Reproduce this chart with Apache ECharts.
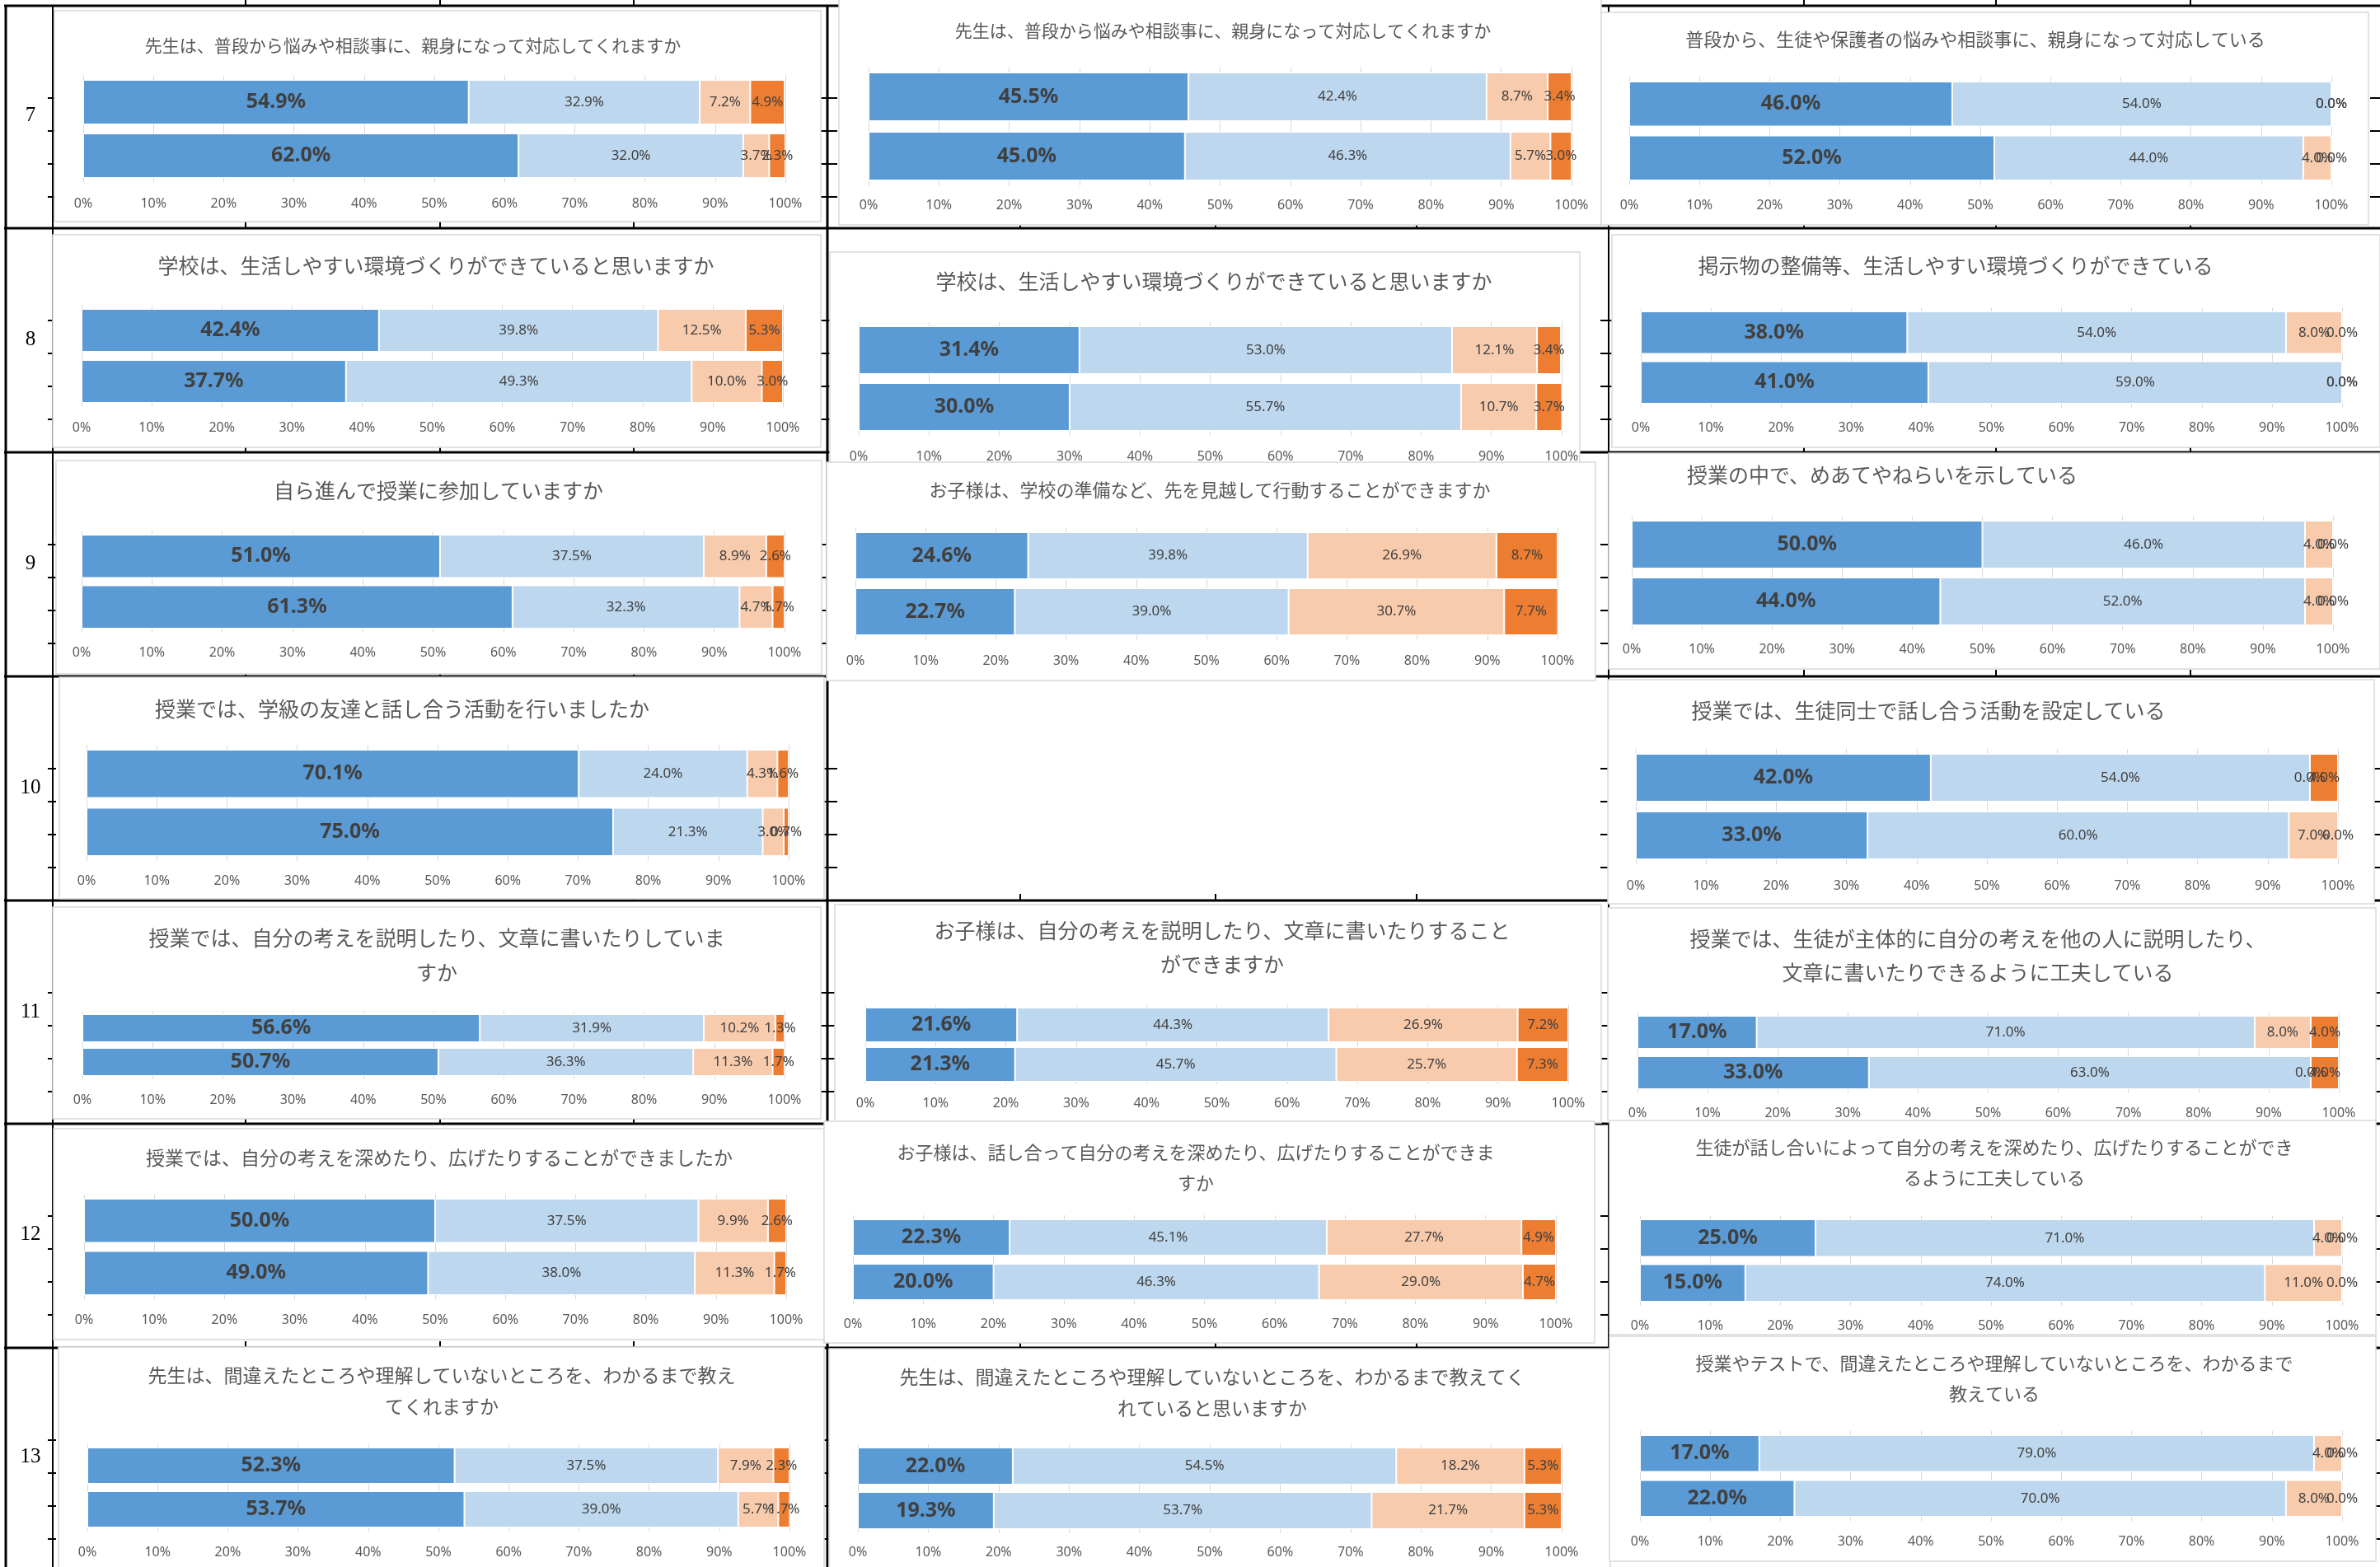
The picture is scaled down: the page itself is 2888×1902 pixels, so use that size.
<!DOCTYPE html>
<html lang="ja">
<head>
<meta charset="UTF-8">
<script src="https://cdn.jsdelivr.net/npm/echarts@6/dist/echarts.min.js"></script>
<style>
  html, body { margin: 0; padding: 0; background: #fff; }
  #main { width: 2888px; height: 1902px; }
</style>
</head>
<body>
<div id="main"></div>
<script>
// 4段階の回答区分（左から）
var levels = ['よくあてはまる', 'ややあてはまる', 'あまりあてはまらない', 'あてはまらない'];
var colors = ['#5B9BD5', '#BDD7EE', '#F8CBAD', '#ED7D31'];
var rowNames = ['7', '8', '9', '10', '11', '12', '13'];
var tickLabels = ['0%', '10%', '20%', '30%', '40%', '50%', '60%', '70%', '80%', '90%', '100%'];

// [上段, 下段] それぞれ4区分の割合(%)  s=生徒 p=保護者 t=教職員
var s7 = [[54.9, 32.9, 7.2, 4.9], [62.0, 32.0, 3.7, 2.3]];
var p7 = [[45.5, 42.4, 8.7, 3.4], [45.0, 46.3, 5.7, 3.0]];
var t7 = [[46.0, 54.0, 0.0, 0.0], [52.0, 44.0, 4.0, 0.0]];
var s8 = [[42.4, 39.8, 12.5, 5.3], [37.7, 49.3, 10.0, 3.0]];
var p8 = [[31.4, 53.0, 12.1, 3.4], [30.0, 55.7, 10.7, 3.7]];
var t8 = [[38.0, 54.0, 8.0, 0.0], [41.0, 59.0, 0.0, 0.0]];
var s9 = [[51.0, 37.5, 8.9, 2.6], [61.3, 32.3, 4.7, 1.7]];
var p9 = [[24.6, 39.8, 26.9, 8.7], [22.7, 39.0, 30.7, 7.7]];
var t9 = [[50.0, 46.0, 4.0, 0.0], [44.0, 52.0, 4.0, 0.0]];
var s10 = [[70.1, 24.0, 4.3, 1.6], [75.0, 21.3, 3.0, 0.7]];
var t10 = [[42.0, 54.0, 0.0, 4.0], [33.0, 60.0, 7.0, 0.0]];
var s11 = [[56.6, 31.9, 10.2, 1.3], [50.7, 36.3, 11.3, 1.7]];
var p11 = [[21.6, 44.3, 26.9, 7.2], [21.3, 45.7, 25.7, 7.3]];
var t11 = [[17.0, 71.0, 8.0, 4.0], [33.0, 63.0, 0.0, 4.0]];
var s12 = [[50.0, 37.5, 9.9, 2.6], [49.0, 38.0, 11.3, 1.7]];
var p12 = [[22.3, 45.1, 27.7, 4.9], [20.0, 46.3, 29.0, 4.7]];
var t12 = [[25.0, 71.0, 4.0, 0.0], [15.0, 74.0, 11.0, 0.0]];
var s13 = [[52.3, 37.5, 7.9, 2.3], [53.7, 39.0, 5.7, 1.7]];
var p13 = [[22.0, 54.5, 18.2, 5.3], [19.3, 53.7, 21.7, 5.3]];
var t13 = [[17.0, 79.0, 4.0, 0.0], [22.0, 70.0, 8.0, 0.0]];

var titles = {
    s7: '先生は、普段から悩みや相談事に、親身になって対応してくれますか',
    p7: '先生は、普段から悩みや相談事に、親身になって対応してくれますか',
    t7: '普段から、生徒や保護者の悩みや相談事に、親身になって対応している',
    s8: '学校は、生活しやすい環境づくりができていると思いますか',
    p8: '学校は、生活しやすい環境づくりができていると思いますか',
    t8: '掲示物の整備等、生活しやすい環境づくりができている',
    s9: '自ら進んで授業に参加していますか',
    p9: 'お子様は、学校の準備など、先を見越して行動することができますか',
    t9: '授業の中で、めあてやねらいを示している',
    s10: '授業では、学級の友達と話し合う活動を行いましたか',
    t10: '授業では、生徒同士で話し合う活動を設定している',
    s11: '授業では、自分の考えを説明したり、文章に書いたりしていま\nすか',
    p11: 'お子様は、自分の考えを説明したり、文章に書いたりすること\nができますか',
    t11: '授業では、生徒が主体的に自分の考えを他の人に説明したり、\n文章に書いたりできるように工夫している',
    s12: '授業では、自分の考えを深めたり、広げたりすることができましたか',
    p12: 'お子様は、話し合って自分の考えを深めたり、広げたりすることができま\nすか',
    t12: '生徒が話し合いによって自分の考えを深めたり、広げたりすることができ\nるように工夫している',
    s13: '先生は、間違えたところや理解していないところを、わかるまで教え\nてくれますか',
    p13: '先生は、間違えたところや理解していないところを、わかるまで教えてく\nれていると思いますか',
    t13: '授業やテストで、間違えたところや理解していないところを、わかるまで\n教えている'
};

// 各グラフの枠・プロット位置（px）
// box=[x,y,w,h] px=[0%,100%] bars=[上段上,上段下,下段上,下段下] ly=目盛ラベルy tx,ty=タイトル中心 fs=タイトル文字 lh=行送り
var layout = [
    {d: s7, k: 's7', box: [66, 13, 930, 256], px: [101, 953], bars: [97, 151, 162, 216], ly: 247, tx: 501, ty: 55, fs: 21},
    {d: p7, k: 'p7', box: [1018, -2, 925, 275], px: [1054, 1907], bars: [88, 147, 160, 219], ly: 249, tx: 1484, ty: 37, fs: 21},
    {d: t7, k: 't7', box: [1943, 15, 931, 258], px: [1977, 2829], bars: [99, 154, 165, 219], ly: 249, tx: 2397, ty: 48, fs: 22},
    {d: s8, k: 's8', box: [64, 285, 932, 258], px: [99, 950], bars: [375, 427, 437, 489], ly: 519, tx: 529, ty: 322, fs: 25},
    {d: p8, k: 'p8', box: [1007, 306, 910, 256], px: [1042, 1895], bars: [396, 454, 465, 523], ly: 554, tx: 1473, ty: 341, fs: 25},
    {d: t8, k: 't8', box: [1956, 285, 932, 258], px: [1991, 2842], bars: [378, 429, 438, 490], ly: 519, tx: 2373, ty: 322, fs: 25},
    {d: s9, k: 's9', box: [68, 559, 929, 259], px: [99, 952], bars: [649, 702, 711, 763], ly: 792, tx: 532, ty: 595, fs: 25},
    {d: p9, k: 'p9', box: [1003, 561, 933, 265], px: [1038, 1890], bars: [646, 703, 714, 771], ly: 802, tx: 1468, ty: 595, fs: 22},
    {d: t9, k: 't9', box: [1952, 550, 936, 262], px: [1980, 2831], bars: [632, 691, 702, 759], ly: 788, tx: 2284, ty: 576, fs: 25},
    {d: s10, k: 's10', box: [72, 822, 928, 269], px: [105, 957], bars: [910, 968, 980, 1039], ly: 1069, tx: 488, ty: 860, fs: 25},
    {d: t10, k: 't10', box: [1951, 825, 930, 272], px: [1985, 2837], bars: [915, 973, 985, 1043], ly: 1075, tx: 2340, ty: 862, fs: 25},
    {d: s11, k: 's11', box: [64, 1101, 932, 257], px: [100, 952], bars: [1231, 1265, 1272, 1306], ly: 1335, tx: 530, ty: 1138, fs: 25, lh: 42},
    {d: p11, k: 'p11', box: [1013, 1098, 930, 265], px: [1050, 1903], bars: [1223, 1265, 1271, 1313], ly: 1339, tx: 1483, ty: 1129, fs: 25, lh: 41},
    {d: t11, k: 't11', box: [1951, 1102, 932, 260], px: [1987, 2838], bars: [1233, 1273, 1282, 1322], ly: 1351, tx: 2400, ty: 1139, fs: 25, lh: 41},
    {d: s12, k: 's12', box: [65, 1370, 935, 256], px: [102, 954], bars: [1455, 1509, 1519, 1572], ly: 1602, tx: 533, ty: 1405, fs: 23},
    {d: p12, k: 'p12', box: [1000, 1361, 935, 269], px: [1035, 1888], bars: [1480, 1524, 1534, 1578], ly: 1607, tx: 1451, ty: 1399, fs: 22, lh: 37},
    {d: t12, k: 't12', box: [1953, 1360, 930, 260], px: [1990, 2842], bars: [1480, 1526, 1535, 1580], ly: 1609, tx: 2420, ty: 1393, fs: 22, lh: 37},
    {d: s13, k: 's13', box: [71, 1635, 929, 280], px: [106, 958], bars: [1757, 1802, 1811, 1854], ly: 1884, tx: 536, ty: 1669, fs: 23, lh: 38},
    {d: p13, k: 'p13', box: [1006, 1637, 948, 280], px: [1041, 1895], bars: [1757, 1802, 1811, 1856], ly: 1884, tx: 1471, ty: 1671, fs: 23, lh: 38},
    {d: t13, k: 't13', box: [1953, 1622, 930, 273], px: [1990, 2842], bars: [1742, 1787, 1797, 1841], ly: 1871, tx: 2420, ty: 1655, fs: 22, lh: 37}
];

var rowTops = [7, 277, 549, 821, 1093, 1364, 1636];
var rowMids = [140, 412, 684, 956, 1228, 1498, 1768];

var myChart = echarts.init(document.getElementById('main'));
var option = {
    animation: false,
    backgroundColor: '#fff',
    title: [], grid: [], xAxis: [], yAxis: [], series: [], graphic: []
};

// 表の罫線
rowTops.forEach(function (y, r) {
    option.graphic.push({type: 'line', z: -20, shape: {x1: 5, y1: y, x2: 2888, y2: y}, style: {stroke: '#000', lineWidth: 3}});
    // 目盛のような短い線
    [298, 534, 769, 1238, 1475, 1719, 2189, 2422, 2658].forEach(function (x) {
        option.graphic.push({type: 'line', z: -20, shape: {x1: x, y1: y - 8, x2: x, y2: y}, style: {stroke: '#000', lineWidth: 2}});
    });
    [112, 152, 192, 232].forEach(function (o) {
        [[58, 68], [996, 1016], [1942, 1960], [2876, 2888]].forEach(function (xs) {
            option.graphic.push({type: 'line', z: -20, shape: {x1: xs[0], y1: y + o, x2: xs[1], y2: y + o}, style: {stroke: '#000', lineWidth: 2}});
        });
    });
    option.graphic.push({
        type: 'text', z: -20, x: 37, y: rowMids[r],
        style: {text: rowNames[r], font: '25px "Liberation Serif"', fill: '#000',
            textAlign: 'center', textVerticalAlign: 'middle', align: 'center', verticalAlign: 'middle'}
    });
});
[[7, 3], [64, 2], [1004, 3], [1952, 2]].forEach(function (v) {
    option.graphic.push({type: 'line', z: -20, shape: {x1: v[0], y1: 7, x2: v[0], y2: 1902}, style: {stroke: '#000', lineWidth: v[1]}});
});

layout.forEach(function (p, i) {
    var b = p.bars;
    var gap = b[2] - b[1];
    var top = b[0] - gap / 2;
    var bottom = b[3] + gap / 2;
    var barH = ((b[1] - b[0]) + (b[3] - b[2])) / 2;
    var lh = p.lh || Math.round(p.fs * 1.4);

    option.graphic.push({
        type: 'rect', z: -10,
        shape: {x: p.box[0], y: p.box[1], width: p.box[2], height: p.box[3]},
        style: {fill: '#fff', stroke: '#D9D9D9', lineWidth: 1.5}
    });

    option.title.push({
        text: titles[p.k], left: p.tx, top: p.ty - lh / 2, textAlign: 'center', padding: 0,
        textStyle: {fontFamily: 'Noto Sans CJK JP', fontSize: p.fs, fontWeight: 'normal', color: '#595959', lineHeight: lh}
    });

    option.grid.push({left: p.px[0], top: top, width: p.px[1] - p.px[0], height: bottom - top});

    option.xAxis.push({
        gridIndex: i, type: 'value', min: 0, max: 100, interval: 10,
        axisLine: {show: false}, axisTick: {show: false},
        splitLine: {lineStyle: {color: '#D9D9D9', width: 1}},
        axisLabel: {
            margin: p.ly - bottom - 8, fontSize: 16, color: '#595959', fontFamily: 'Noto Sans',
            formatter: function (v) { return tickLabels[Math.round(v / 10)]; }
        }
    });
    option.yAxis.push({gridIndex: i, type: 'category', inverse: true, data: ['上段', '下段'], show: false});

    levels.forEach(function (name, k) {
        option.series.push({
            name: name, type: 'bar', xAxisIndex: i, yAxisIndex: i, stack: 'q' + i, barWidth: barH,
            data: [p.d[0][k], p.d[1][k]],
            itemStyle: {color: colors[k], borderColor: '#fff', borderWidth: 1},
            label: {
                show: true, position: 'inside', color: '#404040',
                fontFamily: 'Noto Sans',
                fontSize: k === 0 ? 25 : 17,
                fontWeight: k === 0 ? 'bold' : 'normal',
                formatter: function (prm) { return prm.value.toFixed(1) + '%'; }
            }
        });
    });
});

myChart.setOption(option);
</script>
</body>
</html>
